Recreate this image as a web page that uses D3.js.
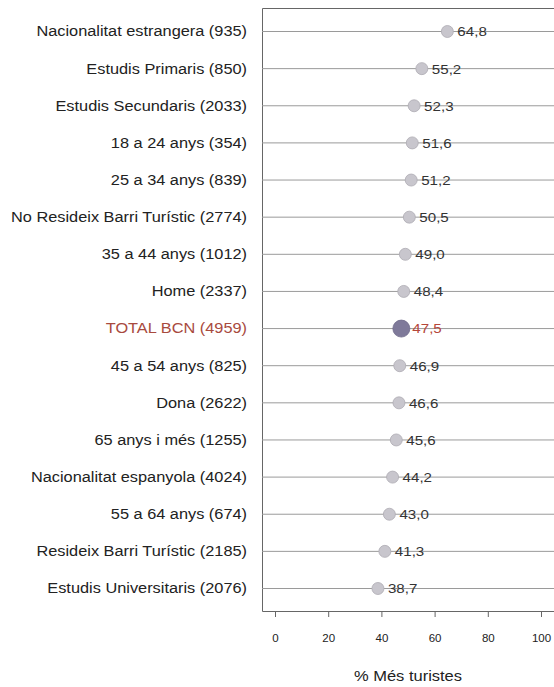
<!DOCTYPE html>
<html><head><meta charset="utf-8">
<script src="https://cdn.jsdelivr.net/npm/d3@7"></script>
<style>body{margin:0;background:#fff}</style>
</head><body><svg id="c" width="554" height="687"></svg>
<script>
const categories = ["Nacionalitat estrangera (935)","Estudis Primaris (850)","Estudis Secundaris (2033)","18 a 24 anys (354)","25 a 34 anys (839)","No Resideix Barri Turístic (2774)","35 a 44 anys (1012)","Home (2337)","TOTAL BCN (4959)","45 a 54 anys (825)","Dona (2622)","65 anys i més (1255)","Nacionalitat espanyola (4024)","55 a 64 anys (674)","Resideix Barri Turístic (2185)","Estudis Universitaris (2076)"];
const values = [64.8,55.2,52.3,51.6,51.2,50.5,49.0,48.4,47.5,46.9,46.6,45.6,44.2,43.0,41.3,38.7];
const valueLabels = ["64,8","55,2","52,3","51,6","51,2","50,5","49,0","48,4","47,5","46,9","46,6","45,6","44,2","43,0","41,3","38,7"];
const xTicks = [0,20,40,60,80,100];
const totalName = "TOTAL BCN (4959)";
const xTitle = "% Més turistes";

const svg = d3.select("#c");
const font = "Liberation Sans, Arial, sans-serif";
const x = d3.scaleLinear().domain([0,100]).range([275,541]);
const y = d3.scalePoint().domain(categories).range([31,588]);
const pLeft = 262, pTop = 8, pBottom = 611, pRight = 600;

// box
svg.append("path").attr("d",`M${pRight},${pTop+0.5}H${pLeft+0.5}V${pBottom+0.5}H${pRight}`)
  .attr("fill","none").attr("stroke","#666").attr("stroke-width",1);

// gridlines
svg.append("g").selectAll("line").data(categories).join("line")
  .attr("x1",pLeft).attr("x2",pRight)
  .attr("y1",d=>y(d)+0.5).attr("y2",d=>y(d)+0.5)
  .attr("stroke","#9a9a9a").attr("stroke-width",1);

// x axis
const ax = svg.append("g").attr("transform",`translate(0,${pBottom})`)
  .call(d3.axisBottom(x).tickValues(xTicks).tickSize(6).tickPadding(17).tickFormat(d3.format("d")));
ax.select(".domain").remove();
ax.selectAll("line").attr("stroke","#666");
ax.selectAll("text").attr("font-family",font).attr("font-size",11.5).attr("fill","#222");

// points
svg.append("g").selectAll("circle").data(categories).join("circle")
  .attr("cx",(d,i)=>x(values[i])).attr("cy",d=>y(d)+0.5)
  .attr("r",d=>d===totalName?8.5:6)
  .attr("fill",d=>d===totalName?"#7f7a9a":"#c8c6cd")
  .attr("stroke",d=>d===totalName?"#706b8a":"#adabb3").attr("stroke-width",0.8);

// value labels
svg.append("g").selectAll("text").data(categories).join("text")
  .attr("transform",(d,i)=>`translate(${x(values[i])+(d===totalName?11:10)},${y(d)+0.5}) scale(1.12,1)`)
  .attr("dy","0.36em")
  .attr("font-family",font).attr("font-size",13.5)
  .attr("fill",d=>d===totalName?"#b5473a":"#333")
  .text((d,i)=>valueLabels[i]);

// category labels
svg.append("g").selectAll("text").data(categories).join("text")
  .attr("transform",d=>`translate(247,${y(d)}) scale(1.09,1)`)
  .attr("dy","0.36em").attr("text-anchor","end")
  .attr("font-family",font).attr("font-size",15)
  .attr("fill",d=>d===totalName?"#a84a3e":"#222")
  .text(d=>d);

// x title
svg.append("text").attr("transform","translate(408,681) scale(1.1,1)").attr("text-anchor","middle")
  .attr("font-family",font).attr("font-size",15).attr("fill","#222").text(xTitle);
</script></body></html>
